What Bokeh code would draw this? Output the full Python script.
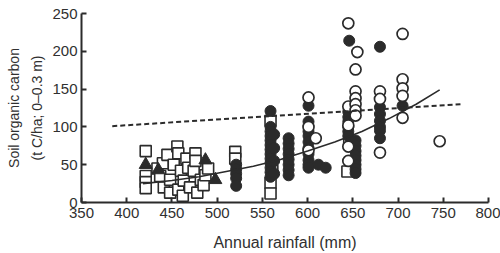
from bokeh.plotting import figure
from bokeh.models import Range1d, FixedTicker, Title
from bokeh.embed import file_html
from bokeh.resources import INLINE

# Open squares
sq_x = [421, 421, 421, 421, 434, 437, 440, 441, 445, 448, 448, 452, 456, 457, 457, 460, 462, 463,
        466, 468, 470, 474, 476, 476, 478, 482, 485, 487, 490, 520, 520, 559, 559, 559, 561, 644, 646]
sq_y = [68, 35, 27, 19, 45, 35, 52, 20, 63, 30, 13, 50, 74, 65, 17, 42, 9, 29,
        58, 46, 20, 42, 65, 55, 13, 30, 23, 36, 45, 67, 58, 108, 26, 12, 42, 41, 78]

# Filled triangles
tri_x = [421, 435, 487, 498]
tri_y = [50, 43, 56, 30]

# Filled circles
fc_x = [521, 521, 521, 521, 521,
        559, 559, 559, 559, 559, 559, 559, 559, 559, 559, 559, 559, 559,
        563, 563, 563, 563,
        579, 579, 579, 579, 579, 579, 579, 579,
        601, 601, 601, 601, 601, 601, 601, 601, 601, 601,
        612, 620, 646,
        645, 645, 645, 645, 645, 645,
        653, 653, 653, 653, 653, 653, 653, 653,
        680, 680, 680, 680, 680, 680, 680, 705]
fc_y = [50, 44, 38, 32, 22,
        121, 100, 94, 88, 82, 76, 70, 64, 58, 52, 46, 40, 34,
        90, 72, 55, 38,
        85, 78, 71, 64, 57, 50, 43, 36,
        128, 107, 94, 88, 80, 72, 64, 56, 50, 46,
        50, 46, 214,
        120, 113, 107, 100, 94, 88,
        82, 75, 68, 62, 56, 50, 44, 39,
        206, 126, 117, 108, 100, 95, 85, 128]

# Open circles
oc_x = [601, 601, 601, 609, 645, 645, 645, 645, 645, 655,
        653, 653, 653, 653, 653, 653, 680, 680, 680,
        705, 705, 705, 705, 705, 746]
oc_y = [139, 100, 69, 85, 237, 127, 102, 74, 55, 199,
        176, 147, 138, 130, 122, 115, 147, 137, 66,
        223, 163, 151, 141, 112, 81]

# Fitted curves
fit_x = [418, 450, 480, 510, 540, 570, 600, 630, 660, 690, 720, 746]
fit_y = [25, 29, 34, 41, 48, 57, 68, 80, 94, 111, 130, 149]
dash_x = [384, 769]
dash_y = [101, 130]

x_ticks = [350, 400, 450, 500, 550, 600, 650, 700, 750, 800]
y_ticks = [0, 50, 100, 150, 200, 250]
y_label_lines = ["Soil organic carbon", "(t C/ha; 0\u20130.3 m)"]

INK = "#2b2b2b"
TXT = "#303030"
FONT = "Liberation Sans"

p = figure(width=500, height=253, output_backend="svg", toolbar_location=None,
           x_range=Range1d(350, 800), y_range=Range1d(0, 250),
           min_border_left=81, min_border_right=12, min_border_top=13, min_border_bottom=48)
p.outline_line_color = None
p.grid.visible = False
p.background_fill_color = "white"

p.scatter(sq_x, sq_y, marker="square", size=11, fill_color="white",
          line_color=INK, line_width=1.6)
p.scatter(tri_x, tri_y, marker="triangle", size=13, fill_color=INK,
          line_color=INK, line_width=1)
p.scatter(fc_x, fc_y, marker="circle", size=11, fill_color=INK,
          line_color=INK, line_width=1)
p.scatter(oc_x, oc_y, marker="circle", size=11, fill_color="white",
          line_color=INK, line_width=1.7)

p.line(fit_x, fit_y, line_color=INK, line_width=1.6)
p.line(dash_x, dash_y, line_color=INK, line_width=2, line_dash="5 3")

for ax in (p.xaxis[0], p.yaxis[0]):
    ax.axis_line_color = INK
    ax.axis_line_width = 2
    ax.major_tick_line_color = INK
    ax.major_tick_line_width = 2
    ax.major_tick_in = 5
    ax.major_tick_out = 0
    ax.minor_tick_line_color = None
    ax.major_label_text_font = FONT
    ax.major_label_text_font_size = "15px"
    ax.major_label_text_color = TXT
    ax.axis_label_text_font = FONT
    ax.axis_label_text_font_size = "16px"
    ax.axis_label_text_font_style = "normal"
    ax.axis_label_text_color = TXT

p.xaxis.ticker = FixedTicker(ticks=x_ticks)
p.yaxis.ticker = FixedTicker(ticks=y_ticks)
p.xaxis.major_label_standoff = 5
p.yaxis.major_label_standoff = 4
p.xaxis.axis_label = "Annual rainfall (mm)"
p.xaxis.axis_label_standoff = 13

# y-axis title as two stacked side titles (second line nearest the axis)
for txt, so in zip(reversed(y_label_lines), [9, 1]):
    p.add_layout(Title(text=txt, align="center", offset=13, standoff=so,
                       text_font=FONT, text_font_size="14px", text_font_style="normal",
                       text_color=TXT), "left")

open("out.html", "w").write(file_html(p, INLINE))
